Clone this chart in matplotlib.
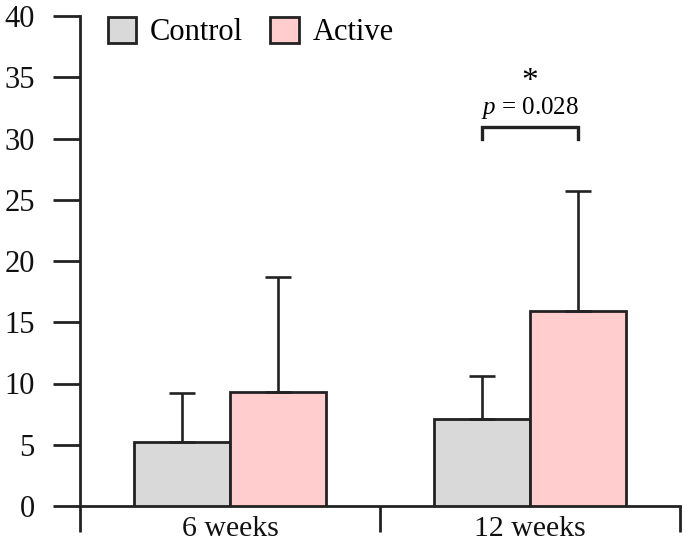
import numpy as np
import matplotlib.pyplot as plt
from matplotlib.ticker import FixedLocator, NullFormatter

plt.rcParams['font.family'] = ['Liberation Serif', 'DejaVu Serif']
plt.rcParams['mathtext.fontset'] = 'custom'
plt.rcParams['mathtext.it'] = 'Liberation Serif:italic'
plt.rcParams['mathtext.rm'] = 'Liberation Serif'

groups = ['6 weeks', '12 weeks']
control_mean = [5.2, 7.1]
control_top = [9.2, 10.6]
active_mean = [9.3, 15.9]
active_top = [18.7, 25.7]
p_text = '$p$ = 0.028'

fig = plt.figure(figsize=(6.85, 5.48), dpi=100)
ax = fig.add_axes([80 / 685, 42 / 548, 600 / 685, 490 / 548])

x = np.arange(len(groups))
w = 0.32
edge = '#222222'
lw = 2.0
ekw = dict(ecolor=edge, elinewidth=1.9, capsize=9.5, capthick=1.9)

ctrl_err = [np.zeros(2), np.array(control_top) - np.array(control_mean)]
act_err = [np.zeros(2), np.array(active_top) - np.array(active_mean)]

ax.bar(x - w / 2, control_mean, w, yerr=ctrl_err, color='#d9d9d9',
       edgecolor=edge, linewidth=lw, error_kw=ekw, label='Control', zorder=3)
ax.bar(x + w / 2, active_mean, w, yerr=act_err, color='#ffcdce',
       edgecolor=edge, linewidth=lw, error_kw=ekw, label='Active', zorder=3)

# significance bracket between the 12-week bars
x1, x2 = x[1] - w / 2, x[1] + w / 2
ax.plot([x1, x1, x2, x2], [30.0, 30.9, 30.9, 30.0], color=edge, lw=2.4,
        solid_joinstyle='miter', clip_on=False)
ax.text((x1 + x2) / 2, 32.5, p_text, ha='center', va='center', fontsize=18)
ax.text((x1 + x2) / 2, 34.6, '*', ha='center', va='center', fontsize=24)

ax.set_xlim(-0.5, 1.5)
ax.set_ylim(0, 40)
ax.set_yticks(np.arange(0, 41, 5))
ax.xaxis.set_major_locator(FixedLocator([-0.5, 0.5, 1.5]))
ax.xaxis.set_major_formatter(NullFormatter())
ax.xaxis.set_minor_locator(FixedLocator(x))
ax.set_xticklabels(groups, minor=True)

ax.tick_params(axis='y', length=19.5, width=2.0, pad=13, labelsize=22, colors=edge, labelcolor='#111111')
ax.tick_params(axis='x', which='major', length=19, width=2.0, color=edge)
ax.tick_params(axis='x', which='minor', length=0, pad=7, labelsize=21.5, labelcolor='#111111')

for s in ['top', 'right']:
    ax.spines[s].set_visible(False)
for s in ['left', 'bottom']:
    ax.spines[s].set_linewidth(2.0)
    ax.spines[s].set_color(edge)

ax.legend(loc='center left', bbox_to_anchor=(108 / 685, 516 / 548),
          bbox_transform=fig.transFigure, ncol=2, frameon=False, fontsize=22,
          handlelength=0.92, handleheight=0.92, handletextpad=0.45,
          columnspacing=0.9, borderpad=0, borderaxespad=0)

fig.savefig('out.png', dpi=100)
